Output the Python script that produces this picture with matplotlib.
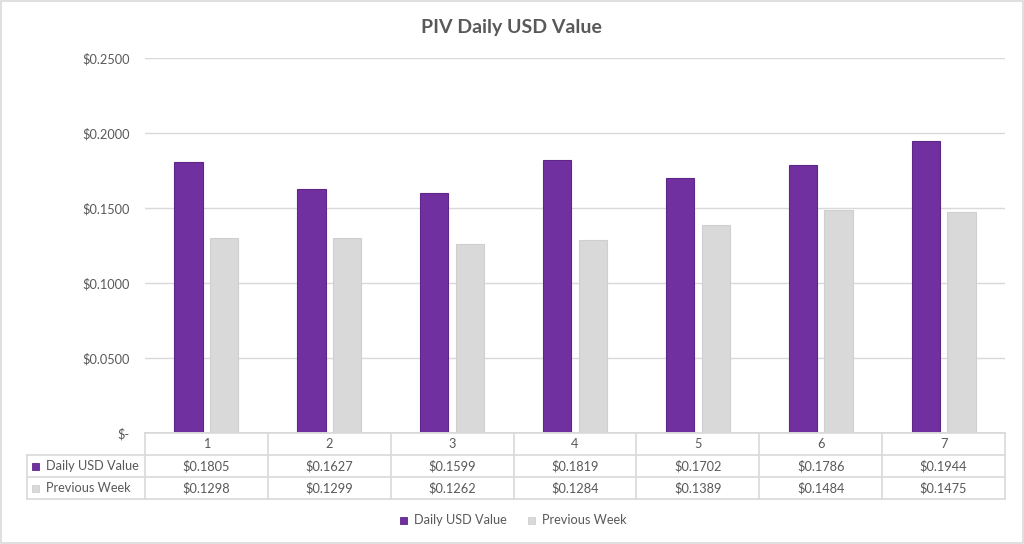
import matplotlib
matplotlib.use("Agg")
import matplotlib.pyplot as plt
from matplotlib.patches import Rectangle
from matplotlib.lines import Line2D
import numpy as np

plt.rcParams['font.family'] = ['Lato', 'DejaVu Sans']

title = "PIV Daily USD Value"
categories = ["1", "2", "3", "4", "5", "6", "7"]
series_names = ["Daily USD Value", "Previous Week"]
daily = [0.1805, 0.1627, 0.1599, 0.1819, 0.1702, 0.1786, 0.1944]
previous = [0.1298, 0.1299, 0.1262, 0.1284, 0.1389, 0.1484, 0.1475]
yticks = [0.0, 0.05, 0.10, 0.15, 0.20, 0.25]

purple = "#7030A0"
purple_edge = "#5E2787"
gray = "#D9D9D9"
grid_c = "#D9D9D9"
text_c = "#595959"

W, H = 1024, 544
fig = plt.figure(figsize=(W / 100, H / 100), dpi=100)
fig.patch.set_facecolor("white")

def fx(px):
    return px / W

def fy(py):
    return 1 - py / H

L, R, T, B = 145, 1005, 58, 433
ax = fig.add_axes([fx(L), fy(B), fx(R) - fx(L), fy(T) - fy(B)])

fs = 9.2
n = len(categories)
x = np.arange(n)
bw = 0.23
off = 0.145
ax.bar(x - off, daily, bw, color=purple, edgecolor=purple_edge, linewidth=0.8, zorder=3)
ax.bar(x + off, previous, bw, color=gray, edgecolor="#CFCFCF", linewidth=0.8, zorder=3)
ax.set_xlim(-0.5, n - 0.5)
ax.set_ylim(0, 0.25)
ax.set_yticks(yticks)
ax.set_yticklabels(["$-" if v == 0 else f"${v:.4f}" for v in yticks],
                   fontsize=fs, color=text_c)
ax.tick_params(axis="y", length=0, pad=11)
ax.tick_params(axis="x", length=0, labelbottom=False)
ax.yaxis.grid(True, color=grid_c, linewidth=1, zorder=0)
for s in ax.spines.values():
    s.set_visible(False)
ax.axhline(0, color=grid_c, linewidth=1.2, zorder=4)

# overlay for table, title, legend
ov = fig.add_axes([0, 0, 1, 1], facecolor="none")
ov.set_xlim(0, W)
ov.set_ylim(H, 0)
ov.axis("off")

# figure border
ov.add_patch(Rectangle((1, 1), W - 2.5, H - 2.5, fill=False, edgecolor="#D9D9D9", linewidth=1.2))

ov.text(W / 2 - 0.5, 27, title, ha="center", va="center", fontsize=14,
        fontweight="bold", color=text_c)

line_c = "#D9D9D9"
LBL = 27
rows_y = [433, 455, 477, 499]
cw = (R - L) / n
# horizontal lines
ov.add_line(Line2D([L, R], [rows_y[0], rows_y[0]], color=line_c, lw=1.2))
for yy in rows_y[1:]:
    ov.add_line(Line2D([LBL, R], [yy, yy], color=line_c, lw=1.2))
# vertical lines
for i in range(n + 1):
    xx = L + i * cw
    ov.add_line(Line2D([xx, xx], [rows_y[0], rows_y[-1]], color=line_c, lw=1.2))
ov.add_line(Line2D([LBL, LBL], [rows_y[1], rows_y[-1]], color=line_c, lw=1.2))

for i, c in enumerate(categories):
    cx = L + (i + 0.5) * cw
    ov.text(cx, (rows_y[0] + rows_y[1]) / 2, c, ha="center", va="center", fontsize=fs, color=text_c)
    ov.text(cx, (rows_y[1] + rows_y[2]) / 2, f"${daily[i]:.4f}", ha="center", va="center", fontsize=fs, color=text_c)
    ov.text(cx, (rows_y[2] + rows_y[3]) / 2, f"${previous[i]:.4f}", ha="center", va="center", fontsize=fs, color=text_c)

for j, (name, col, ec) in enumerate(zip(series_names, [purple, gray], [purple_edge, "#CFCFCF"])):
    cy = (rows_y[j + 1] + rows_y[j + 2]) / 2
    ov.add_patch(Rectangle((32, cy - 3.5), 7, 7, facecolor=col, edgecolor=ec, lw=0.6))
    ov.text(46, cy, name, ha="left", va="center", fontsize=fs, color=text_c)

# legend
leg_y = 520
items = [(400, series_names[0], purple, purple_edge), (528, series_names[1], gray, "#CFCFCF")]
for lx, name, col, ec in items:
    ov.add_patch(Rectangle((lx, leg_y - 3.5), 7, 7, facecolor=col, edgecolor=ec, lw=0.6))
    ov.text(lx + 14, leg_y, name, ha="left", va="center", fontsize=fs, color=text_c)

fig.savefig("out.png", dpi=100, facecolor="white")
